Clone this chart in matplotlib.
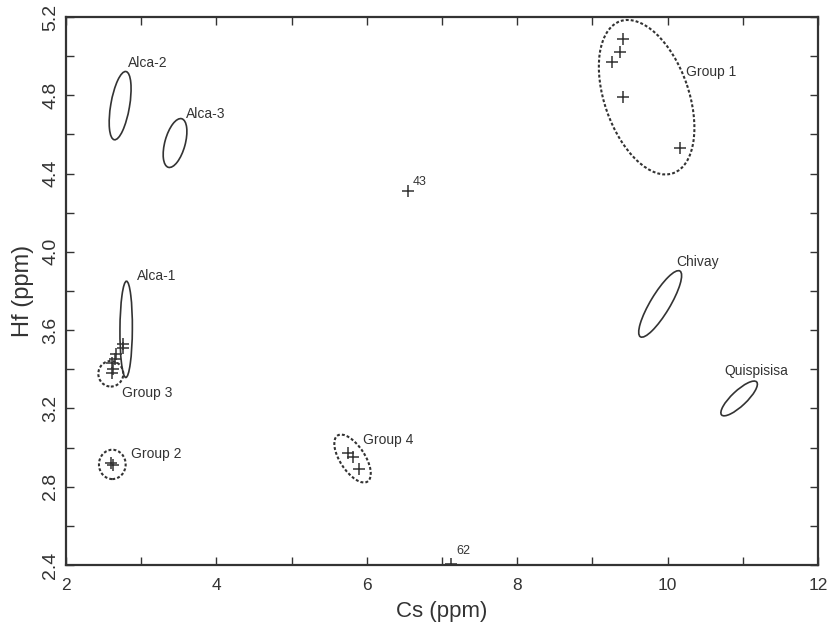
import numpy as np
import matplotlib
matplotlib.use("Agg")
import matplotlib.pyplot as plt
from matplotlib.patches import Ellipse
from matplotlib.transforms import Affine2D

plt.rcParams['font.family'] = ['Liberation Sans', 'DejaVu Sans']

# sample points (Cs, Hf)
g1_cs = [9.41, 9.36, 9.26, 9.40, 10.17]
g1_hf = [5.09, 5.02, 4.97, 4.79, 4.53]
g3_cs = [2.76, 2.76, 2.67, 2.65, 2.61, 2.62, 2.61]
g3_hf = [3.53, 3.51, 3.48, 3.45, 3.43, 3.40, 3.38]
g2_cs = [2.60, 2.63]
g2_hf = [2.92, 2.91]
g4_cs = [5.75, 5.81, 5.90]
g4_hf = [2.97, 2.95, 2.89]
single_cs = [6.55, 7.12]
single_hf = [4.31, 2.406]
single_names = ["43", "62"]

# ellipses: name, center Cs, center Hf, width, height (in Cs units on screen), angle, dashed
ell_names = ["Group 1", "Alca-2", "Alca-3", "Alca-1", "Group 3", "Group 2", "Group 4", "Chivay", "Quispisisa"]
ell_cs = [9.72, 2.72, 3.45, 2.80, 2.596, 2.616, 5.81, 9.90, 10.95]
ell_hf = [4.79, 4.747, 4.556, 3.604, 3.377, 2.914, 2.944, 3.734, 3.251]
ell_w = [2.14, 0.92, 0.67, 1.28, 0.332, 0.355, 0.73, 1.02, 0.64]
ell_h = [1.12, 0.25, 0.27, 0.165, 0.340, 0.390, 0.33, 0.26, 0.20]
ell_ang = [109.2, 80.3, 74.6, 89.6, 0, 0, 123.1, 59.0, 43.3]
ell_dash = [True, False, False, False, True, True, True, False, False]

# label positions
lab_cs = [10.25, 2.82, 3.60, 2.94, 2.74, 2.87, 5.95, 10.12, 10.76]
lab_hf = [4.92, 4.963, 4.704, 3.877, 3.277, 2.967, 3.039, 3.950, 3.393]
single_lab_cs = [6.61, 7.19]
single_lab_hf = [4.358, 2.473]

col = '#333333'

fig = plt.figure(figsize=(8.32, 6.38), dpi=100)
ax = fig.add_axes([0.0793, 0.1144, 0.904, 0.859])
ax.set_xlim(2, 12)
ax.set_ylim(2.4, 5.2)

# screen aspect: y pixels per unit / x pixels per unit
bb = ax.get_window_extent()
k = (bb.height / 2.8) / (bb.width / 10)
tr = Affine2D().scale(1, 1 / k) + ax.transData

for i in range(len(ell_names)):
    ls = (0, (1.4, 1.0)) if ell_dash[i] else '-'
    lw = 1.5 if ell_dash[i] else 1.2
    e = Ellipse((ell_cs[i], ell_hf[i] * k), ell_w[i], ell_h[i], angle=ell_ang[i],
                fill=False, edgecolor=col, lw=lw, linestyle=ls, transform=tr)
    ax.add_patch(e)
    ax.text(lab_cs[i], lab_hf[i], ell_names[i], fontsize=10, color=col, va='center', ha='left')

mk = dict(marker='+', linestyle='none', color=col, markersize=8, markeredgewidth=1.1)
for xs, ys in [(g1_cs, g1_hf), (g3_cs, g3_hf), (g2_cs, g2_hf), (g4_cs, g4_hf), (single_cs, single_hf)]:
    ax.plot(xs, ys, **mk)
for i in range(len(single_names)):
    ax.text(single_lab_cs[i], single_lab_hf[i], single_names[i], fontsize=9, color=col, va='center', ha='left')

ax.set_xticks(np.arange(2, 13, 2))
ax.set_xticks(np.arange(2, 13, 1), minor=True)
ax.set_yticks(np.arange(2.4, 5.21, 0.4))
ax.set_yticks(np.arange(2.4, 5.21, 0.2), minor=True)
ax.set_yticklabels([f"{v:.1f}" for v in np.arange(2.4, 5.21, 0.4)], rotation=90, va='center')
ax.tick_params(which='both', direction='in', top=True, right=True, length=6, width=1, color=col)
ax.tick_params(axis='x', labelsize=12.5, pad=9, labelcolor=col)
ax.tick_params(axis='y', labelsize=14, pad=5, labelcolor=col)
for s in ax.spines.values():
    s.set_linewidth(1.6)
    s.set_color(col)

ax.set_xlabel("Cs (ppm)", fontsize=16, color=col, labelpad=6)
ax.set_ylabel("Hf (ppm)", fontsize=17, color=col, labelpad=6)

fig.savefig("out.png", dpi=100)
